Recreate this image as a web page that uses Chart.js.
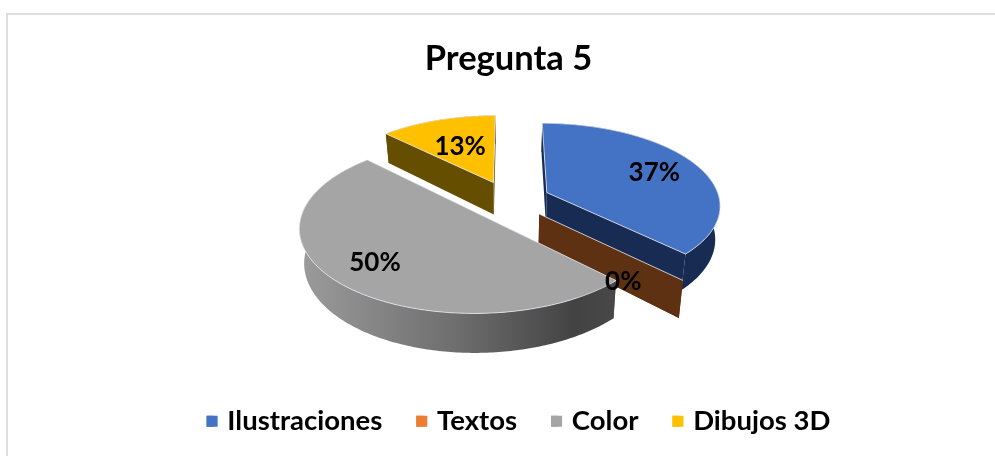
<!DOCTYPE html>
<html><head><meta charset="utf-8">
<style>html,body{margin:0;padding:0;background:#fff}#w{width:995px;height:456px;position:relative}</style>
<script src="https://cdn.jsdelivr.net/npm/chart.js@4"></script></head>
<body><div id="w"><canvas id="c" width="995" height="456"></canvas></div>
<script>
const categories = ["Ilustraciones", "Textos", "Color", "Dibujos 3D"];
const values = [37.4, 0, 50, 12.6];
const title = "Pregunta 5";
const colors = ["#4472C4", "#ED7D31", "#A5A5A5", "#FFC000"];
const wallColors = ["#182B52", "#5F3113", "#5a5a5a", "#654E00"];
const labelFractions = [0.69, 0.5, 0.72, 0.55];
const labelNudgeX = [4, 16, -5, -1];
const labelNudgeY = [0, 36, 1, 0];

const view = {cx:509, cy:200, rx:173, ry:81, persp:0.14, explode:0.24, depth:33, baseShrink:0.977};

function project(X, Y, bottom) {
  const s = 1 / (1 + view.persp * Y);
  const k = bottom ? view.baseShrink : 1;
  return [view.cx + view.rx * X * s * k, view.cy - view.ry * Y * s + (bottom ? view.depth * s : 0)];
}
function pieAt(a, r, mid) {
  return [view.explode * Math.cos(mid) + r * Math.cos(a), -view.explode * Math.sin(mid) - r * Math.sin(a)];
}
function poly(ctx, pts) {
  ctx.beginPath();
  pts.forEach((p, i) => i ? ctx.lineTo(p[0], p[1]) : ctx.moveTo(p[0], p[1]));
  ctx.closePath();
}
const pie3d = {
  id: "pie3d",
  afterLayout(chart) {
    // the left padding only serves to place the legend; keep the title centred on the pie
    chart.titleBlock.left -= 10;
    chart.titleBlock.right -= 10;
  },
  beforeDraw(chart) {
    const ctx = chart.ctx;
    ctx.save();
    ctx.strokeStyle = "#DEDEDE"; ctx.lineWidth = 2;
    ctx.beginPath(); ctx.moveTo(7, 460); ctx.lineTo(7, 14); ctx.lineTo(999, 14); ctx.stroke();
    ctx.restore();
  },
  beforeDatasetsDraw(chart) {
    const ctx = chart.ctx;
    const arcs = chart.getDatasetMeta(0).data.map((el, i) => {
      const start = el.startAngle, end = el.endAngle, mid = (start + end) / 2;
      return {i, start, end, mid, depthKey: Math.sin(mid)};
    }).sort((a, b) => a.depthKey - b.depthKey);
    // painter's order: far slices first
    arcs.forEach(a => {
      const n = Math.max(1, Math.ceil((a.end - a.start) / 0.015));
      const top = [], low = [];
      for (let k = 0; k <= n; k++) {
        const t = a.start + (a.end - a.start) * k / n;
        const P = pieAt(t, 1, a.mid);
        top.push(project(P[0], P[1], false));
        low.push(project(P[0], P[1], true));
      }
      const C = pieAt(0, 0, a.mid);
      const ct = project(C[0], C[1], false), cb = project(C[0], C[1], true);
      ctx.save();
      // cut walls
      ctx.fillStyle = wallColors[a.i];
      poly(ctx, [ct, top[0], low[0], cb]); ctx.fill();
      poly(ctx, [ct, top[n], low[n], cb]); ctx.fill();
      if (a.end > a.start) {
        // outer rim
        let fill = wallColors[a.i];
        if (a.i === 2) {
          const g = ctx.createLinearGradient(298, 0, 613, 0);
          g.addColorStop(0, "#9C9C9C"); g.addColorStop(0.5, "#6E6E6E"); g.addColorStop(0.88, "#434343"); g.addColorStop(1, "#484848");
          fill = g;
        }
        ctx.fillStyle = fill;
        poly(ctx, top.concat(low.slice().reverse())); ctx.fill();
        // top face
        ctx.fillStyle = colors[a.i];
        poly(ctx, [ct].concat(top)); ctx.fill();
        ctx.strokeStyle = "rgba(235,238,245,0.75)"; ctx.lineWidth = 1;
        ctx.stroke();
      } else {
        ctx.strokeStyle = "rgba(235,238,245,0.8)"; ctx.lineWidth = 1;
        ctx.beginPath(); ctx.moveTo(ct[0], ct[1]); ctx.lineTo(top[0][0], top[0][1]); ctx.stroke();
      }
      ctx.restore();
    });
    // percentage labels
    ctx.save();
    ctx.font = "700 26px Lato";
    ctx.fillStyle = "#000"; ctx.textAlign = "center"; ctx.textBaseline = "middle";
    arcs.slice().forEach(a => {
      const P = pieAt(a.mid, labelFractions[a.i], a.mid);
      const q = project(P[0], P[1], false);
      ctx.fillText(Math.round(values[a.i]) + "%", q[0] + labelNudgeX[a.i], q[1] + labelNudgeY[a.i]);
    });
    ctx.restore();
    return false;
  },
  afterDraw(chart) {
    // widen the legend swatches to their full width, keeping the tight text gap
    const ctx = chart.ctx, boxes = chart.legend.legendHitBoxes;
    ctx.save();
    boxes.forEach((b, i) => {
      ctx.fillStyle = colors[i];
      ctx.fillRect(b.left, b.top + (b.height - 11) / 2, 11, 11);
    });
    ctx.restore();
  }
};
new Chart(document.getElementById("c"), {
  type: "pie",
  data: {labels: categories, datasets: [{data: values, backgroundColor: colors, borderWidth: 0}]},
  plugins: [pie3d],
  options: {
    responsive: false, animation: false,
    layout: {padding: {top: 38, bottom: 11, left: 42, right: 0}},
    plugins: {
      tooltip: {enabled: false},
      title: {display: true, text: title, color: "#000", font: {family: "Lato", weight: "700", size: 34.5}, padding: {top: 0, bottom: 10}},
      legend: {position: "bottom", labels: {color: "#000", boxWidth: 7, boxHeight: 11, padding: 34, font: {family: "Lato", weight: "700", size: 27.5}}}
    }
  }
});
</script></body></html>
